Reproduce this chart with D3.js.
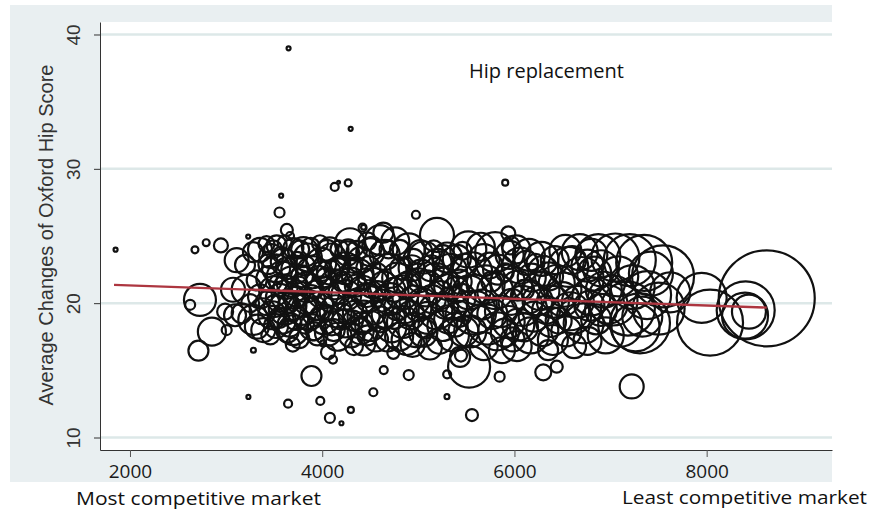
<!DOCTYPE html>
<html>
<head>
<meta charset="utf-8">
<script src="https://cdn.jsdelivr.net/npm/d3@7"></script>
<style>
  body { margin: 0; background: #fff; }
  svg { display: block; }
</style>
</head>
<body>
<div id="chart"></div>
<script>
////////////////data//////////////////
// hospitals lying away from the main cloud: market size, OHS change, volume
var edgeX = [1850, 3650, 4296, 4130, 4270, 4170, 5904, 3573, 3556, 4975,
             3230, 2676, 2793, 2946, 3632, 3665, 4420, 4430, 4636, 5194,
             5936, 2728, 2626, 2990, 3093, 2852, 3006, 2712, 3284, 3694,
             3888, 3232, 3645, 3980, 4080, 4010, 4060, 4112, 4640, 4900,
             4532, 5298, 4298, 4200, 5558, 5300, 5846, 5528, 6300, 6440,
             7220, 5444, 3110];
var edgeY = [23.98, 38.97, 32.98, 28.65, 28.95, 29.0, 28.97, 28.0, 26.75, 26.58,
             24.96, 23.97, 24.5, 24.3, 25.45, 25.0, 25.62, 25.65, 25.25, 25.08,
             25.2, 20.24, 19.88, 19.37, 19.1, 17.88, 18.0, 16.46, 16.5, 16.92,
             14.58, 13.02, 12.52, 12.72, 11.46, 17.0, 16.35, 15.8, 15.02, 14.65,
             13.37, 13.04, 12.05, 11.06, 11.67, 14.7, 14.53, 15.27, 14.85, 15.27,
             13.8, 16.1, 23.2];
var edgeN = [4, 4, 4, 16, 12, 2, 9, 4, 25, 16,
             4, 12, 12, 49, 36, 16, 16, 6, 100, 289,
             49, 256, 25, 64, 121, 196, 25, 100, 6, 49,
             100, 4, 16, 16, 25, 9, 49, 16, 16, 25,
             16, 6, 9, 4, 36, 16, 25, 441, 64, 36,
             144, 36, 144];

// main cloud, listed band by band from left to right
var coreX = [
  3197, 3280, 3072, 3214, 3318, 3353, 3320, 3283, 3162, 3353, 3250, 3380,
  3420, 3526, 3470, 3520, 3450, 3500, 3430, 3480, 3520, 3460,
  3600, 3580, 3620, 3560, 3610, 3590, 3640, 3700, 3720, 3680,
  3740, 3690, 3730, 3700, 3760, 3790, 3790, 3545, 3650, 3760,
  3740, 3387, 3804,
  3850, 3900, 3840, 3880, 3860, 3900, 3950, 3977, 3990, 3960,
  4010, 3970, 4020, 4060, 4080, 4100, 4070, 4130, 4090, 4140,
  4100, 4160, 4180, 4190, 4180, 3920, 4040, 4030, 3820,
  4289, 4260, 4240, 4300, 4250, 4290, 4240, 4300, 4330, 4400,
  4370, 4420, 4380, 4430, 4400, 4427, 4601, 4500, 4480, 4530,
  4490, 4540, 4500, 4560, 4580, 4330, 4450, 4320, 4470,
  4650, 4700, 4640, 4710, 4660, 4720, 4680, 4760, 4809, 4780,
  4830, 4780, 4840, 4800, 4878, 4900, 4930, 4900, 4960, 4920,
  4970, 4940, 4740,
  5020, 5060, 5030, 5080, 5040, 5100, 5050, 5120, 5200, 5180,
  5230, 5190, 5250, 5220, 5300, 5330, 5300, 5350, 5310, 5360,
  5400, 5430, 5420, 5434, 5460, 5470,
  5520, 5560, 5530, 5580, 5540, 5650, 5680, 5700, 5660, 5720,
  5680, 5800, 5830, 5800, 5860, 5820, 5870, 5950, 5930, 5970,
  5940, 5980, 5760, 5900,
  6020, 6060, 6030, 6080, 6040, 6023, 6150, 6180, 6140, 6200,
  6170, 6280, 6300, 6270, 6330, 6290, 6400, 6420, 6440, 6400,
  6460, 6350, 6100, 6220,
  6530, 6560, 6520, 6580, 6540, 6680, 6700, 6660, 6720, 6800,
  6830, 6800, 6850, 6873, 6930, 6900, 6950, 6620, 6760,
  7050, 7080, 7020, 7100, 7200, 7230, 7180, 7260, 7350, 7380, 7330, 7420,
  7546, 7500, 7620, 7306, 7948, 8035, 8406, 8399, 8440, 8625
];
var coreY = [
  22.85, 23.8, 21.0, 21.0, 21.7, 20.5, 18.25, 18.75, 19.25, 23.97, 20.0, 19.4,
  24.4, 24.3, 23.5, 22.6, 21.8, 20.9, 20.0, 19.1, 18.3, 17.6,
  23.1, 22.0, 21.2, 20.4, 19.6, 18.7, 17.9, 24.1, 22.5, 21.6,
  20.7, 19.8, 18.9, 18.0, 17.4, 22.0, 19.5, 21.5, 20.0, 21.3,
  23.3, 18.0, 23.8,
  23.4, 22.3, 21.2, 20.3, 19.2, 18.2, 17.6, 24.46, 23.0, 21.8,
  20.8, 19.8, 18.8, 17.8, 24.0, 23.4, 22.3, 21.4, 20.3, 19.4,
  18.5, 17.5, 24.0, 22.8, 20.8, 21.0, 21.9, 19.2, 18.4,
  24.46, 23.7, 22.6, 21.6, 20.6, 19.5, 18.5, 17.6, 16.8, 23.2,
  22.1, 21.0, 20.0, 19.0, 17.9, 17.0, 24.7, 23.8, 22.6, 21.5,
  20.4, 19.3, 18.3, 17.3, 20.9, 22.9, 22.0, 18.7, 24.6,
  23.6, 22.4, 21.3, 20.3, 19.2, 18.2, 17.3, 24.6, 23.96, 21.9,
  20.8, 19.7, 18.6, 17.5, 17.26, 24.0, 22.6, 21.5, 20.2, 19.1,
  18.0, 16.9, 16.3,
  23.8, 23.4, 22.2, 21.1, 20.0, 18.9, 17.8, 16.7, 23.0, 21.8,
  20.6, 19.4, 18.3, 17.2, 23.4, 22.4, 21.2, 20.0, 18.8, 17.6,
  23.3, 21.6, 19.2, 16.0, 23.9, 17.9,
  24.0, 22.3, 20.8, 19.3, 17.9, 24.2, 23.2, 21.4, 19.9, 18.4,
  16.8, 23.8, 22.5, 20.9, 19.4, 17.9, 16.5, 23.6, 21.6, 20.1,
  18.6, 17.3, 21.6, 22.3,
  24.0, 22.8, 21.3, 19.8, 18.4, 16.8, 23.6, 21.9, 20.5, 19.0,
  17.6, 23.3, 22.4, 20.9, 19.5, 18.0, 17.26, 23.2, 21.5, 20.1,
  18.7, 16.5, 21.0, 23.0,
  23.9, 22.7, 21.0, 19.4, 17.9, 23.8, 21.8, 20.1, 18.5, 23.6,
  22.2, 20.5, 18.8, 23.5, 21.0, 19.5, 17.6, 16.8, 17.2,
  23.4, 22.0, 20.2, 18.4, 23.2, 21.2, 19.6, 18.2, 23.0, 20.6, 19.0, 22.2,
  22.0, 19.6, 20.8, 18.5, 20.4, 18.55, 19.47, 19.07, 19.37, 20.36
];
var coreN = [
  100, 100, 144, 225, 100, 144, 144, 225, 100, 144, 81, 169,
  64, 100, 144, 196, 169, 225, 144, 196, 144, 81,
  169, 225, 144, 196, 256, 169, 121, 100, 196, 225,
  169, 196, 144, 225, 100, 121, 225, 81, 100, 81,
  49, 144, 225,
  196, 256, 225, 196, 256, 169, 100, 64, 225, 169,
  256, 196, 225, 169, 144, 196, 144, 225, 169, 256,
  144, 196, 81, 100, 121, 81, 100, 64, 81,
  225, 144, 256, 196, 225, 169, 196, 144, 81, 169,
  256, 196, 225, 256, 169, 144, 225, 196, 144, 225,
  196, 144, 225, 144, 100, 81, 64, 100, 81,
  225, 289, 196, 256, 196, 225, 144, 196, 100, 225,
  289, 169, 256, 196, 225, 256, 169, 144, 225, 196,
  289, 144, 36,
  144, 256, 196, 324, 225, 256, 196, 144, 196, 256,
  196, 324, 225, 169, 225, 289, 169, 256, 196, 256,
  196, 144, 169, 100, 81, 225,
  324, 400, 289, 484, 256, 196, 256, 361, 225, 400,
  196, 400, 225, 324, 256, 361, 169, 196, 289, 169,
  256, 144, 100, 81,
  196, 324, 225, 400, 256, 225, 256, 196, 289, 225,
  324, 289, 225, 361, 196, 256, 225, 196, 324, 256,
  169, 100, 100, 81,
  256, 400, 289, 361, 225, 324, 484, 256, 400, 256,
  289, 361, 225, 484, 324, 256, 324, 144, 196,
  576, 400, 625, 484, 676, 484, 729, 576, 784, 576, 400, 484,
  961, 676, 400, 900, 625, 1089, 841, 529, 289, 2304
];

// further hospitals hidden inside the cloud
var midX = [3440, 3490, 3510, 3570, 3550, 3630, 3660, 3610, 3710, 3770,
            3820, 3830, 3880, 3930, 3920, 4000, 4050, 4120, 4150, 4200,
            4210, 4270, 4350, 4340, 4360, 4410, 4460, 4470, 4520, 4560,
            4600, 4620, 4690, 4740, 4750, 4820, 4860, 4880, 4950, 5000,
            5010, 5070, 5130, 5140, 5160, 5270, 5280, 5260, 5380, 5390,
            5450, 5480, 5600, 5620, 5740, 5770, 5900, 5960, 6100, 6120,
            6240, 6360, 6380, 6500, 6600, 6620, 6760, 6780, 6900, 6980];
var midY = [22.9, 24.0, 19.8, 23.6, 18.9, 22.6, 18.4, 24.5, 20.4, 24.0,
            22.8, 20.0, 24.2, 19.6, 17.9, 22.4, 23.9, 18.0, 22.5, 19.0,
            21.6, 24.0, 21.3, 19.3, 23.9, 18.5, 20.6, 17.6, 24.2, 22.1,
            18.8, 20.2, 24.0, 21.0, 18.9, 22.6, 19.4, 21.3, 23.3, 19.6,
            21.7, 18.2, 22.6, 20.3, 24.0, 21.6, 19.8, 23.5, 18.4, 21.0,
            20.4, 22.8, 21.0, 18.8, 22.8, 19.2, 17.8, 24.3, 18.2, 23.0,
            20.2, 22.0, 18.6, 20.3, 23.2, 19.0, 22.8, 19.8, 22.6, 19.9];
var midN = [100, 81, 121, 64, 100, 121, 144, 49, 121, 81,
            100, 121, 81, 144, 81, 100, 121, 121, 144, 169,
            100, 100, 121, 144, 100, 121, 144, 100, 100, 144,
            169, 121, 81, 144, 121, 121, 144, 169, 100, 169,
            144, 121, 169, 196, 81, 196, 169, 121, 144, 169,
            196, 144, 225, 196, 169, 225, 196, 81, 196, 144,
            225, 196, 225, 289, 196, 289, 256, 225, 324, 361];

// fitted line (end points)
var fitX = [1834, 8625];
var fitY = [21.36, 19.67];

var xTicks = [2000, 4000, 6000, 8000];
var yTicks = [10, 20, 30, 40];

var groups = [[edgeX, edgeY, edgeN], [coreX, coreY, coreN], [midX, midY, midN]];
var hospitals = [];
groups.forEach(function(g, k) {
  if (g[0].length !== g[1].length || g[0].length !== g[2].length) {
    throw new Error("length mismatch in group " + k + ": " + g[0].length + "," + g[1].length + "," + g[2].length);
  }
  g[0].forEach(function(d, i) { hospitals.push({x: d, y: g[1][i], n: g[2][i]}); });
});

////////////////basic layout//////////////////
var width = 870, height = 510;
var plot = {left: 100, right: 832, top: 22, bottom: 450};

var svg = d3.select("#chart")
  .append("svg")
    .attr("width", width)
    .attr("height", height);

// stata style grey frame + white plot region
svg.append("rect")
  .attr("x", 10).attr("y", 5)
  .attr("width", 822).attr("height", 477)
  .attr("fill", "#e9eff1");
svg.append("rect")
  .attr("x", plot.left).attr("y", plot.top)
  .attr("width", plot.right - plot.left)
  .attr("height", plot.bottom - plot.top)
  .attr("fill", "#fff");

var x = d3.scaleLinear().domain([1688, 9304]).range([plot.left, plot.right]);
var y = d3.scaleLinear().domain([9.07, 40.93]).range([plot.bottom, plot.top]);
var r = d3.scaleSqrt().domain([0, 2304]).range([0, 48]);

// gridlines
svg.append("g").selectAll("line")
  .data(yTicks)
  .enter()
  .append("line")
    .attr("x1", plot.left)
    .attr("x2", plot.right)
    .attr("y1", function(d) { return y(d); })
    .attr("y2", function(d) { return y(d); })
    .attr("stroke", "#dde8e8")
    .attr("stroke-width", 2.5);

// bubbles
svg.append("g").selectAll("circle")
  .data(hospitals)
  .enter()
  .append("circle")
    .attr("cx", function(d) { return x(d.x); })
    .attr("cy", function(d) { return y(d.y); })
    .attr("r", function(d) { return r(d.n); })
    .attr("fill", "none")
    .attr("stroke", "#111")
    .attr("stroke-width", 2.2);

// fitted line
svg.append("path")
  .datum(fitX.map(function(d, i) { return [d, fitY[i]]; }))
  .attr("d", d3.line()
    .x(function(d) { return x(d[0]); })
    .y(function(d) { return y(d[1]); }))
  .attr("stroke", "#ad3640")
  .attr("stroke-width", 2.3)
  .attr("fill", "none");

// Y axis
var yAxis = svg.append("g")
  .attr("transform", "translate(" + plot.left + ",0)")
  .call(d3.axisLeft(y).tickValues(yTicks).tickSize(6).tickSizeOuter(0));
yAxis.select(".domain").attr("stroke", "#333");
yAxis.selectAll(".tick line").attr("stroke", "#333");
yAxis.selectAll(".tick text")
  .attr("transform", "rotate(-90)")
  .attr("x", 0)
  .attr("y", -20)
  .attr("dy", 0)
  .attr("text-anchor", "middle")
  .attr("font-family", "'Liberation Sans', Arial, sans-serif")
  .attr("font-size", 19)
  .attr("fill", "#333");

// X axis
var xAxis = svg.append("g")
  .attr("transform", "translate(0," + plot.bottom + ")")
  .call(d3.axisBottom(x).tickValues(xTicks).tickFormat(d3.format("d"))
    .tickSize(7).tickSizeOuter(0));
xAxis.select(".domain").attr("stroke", "#333");
xAxis.selectAll(".tick line").attr("stroke", "#555");
xAxis.selectAll(".tick text")
  .attr("y", 28)
  .attr("dy", 0)
  .attr("font-family", "'Open Sans', sans-serif")
  .attr("font-size", 19)
  .attr("fill", "#1a1a1a");

// y-axis title
svg.append("text")
  .attr("transform", "translate(53,235) rotate(-90)")
  .attr("text-anchor", "middle")
  .attr("font-family", "'Liberation Sans', Arial, sans-serif")
  .attr("font-size", 20)
  .attr("fill", "#333")
  .text("Average Changes of Oxford Hip Score");

// annotations
svg.append("text")
  .attr("x", 469).attr("y", 78)
  .attr("font-family", "'Open Sans', sans-serif")
  .attr("font-size", 20)
  .attr("fill", "#111")
  .text("Hip replacement");

svg.append("text")
  .attr("x", 76).attr("y", 505)
  .attr("font-family", "'Open Sans', sans-serif")
  .attr("font-size", 18.5)
  .attr("textLength", 245)
  .attr("lengthAdjust", "spacingAndGlyphs")
  .attr("fill", "#111")
  .text("Most competitive market");

svg.append("text")
  .attr("x", 622).attr("y", 504)
  .attr("font-family", "'Open Sans', sans-serif")
  .attr("font-size", 18.5)
  .attr("textLength", 245)
  .attr("lengthAdjust", "spacingAndGlyphs")
  .attr("fill", "#111")
  .text("Least competitive market");
</script>
</body>
</html>
